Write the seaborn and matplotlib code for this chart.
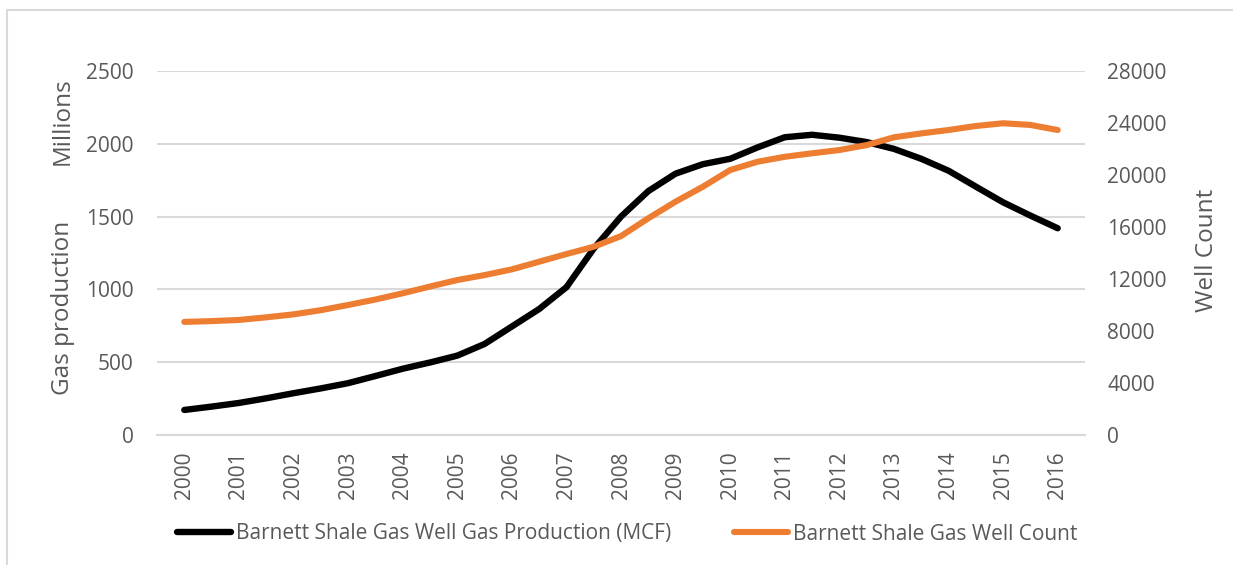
import matplotlib
matplotlib.use("Agg")
import matplotlib.pyplot as plt
import seaborn as sns
import pandas as pd
from matplotlib.lines import Line2D

# Half-year readings, Barnett Shale
period = [2000.0, 2000.5, 2001.0, 2001.5, 2002.0, 2002.5, 2003.0, 2003.5,
          2004.0, 2004.5, 2005.0, 2005.5, 2006.0, 2006.5, 2007.0, 2007.5,
          2008.0, 2008.5, 2009.0, 2009.5, 2010.0, 2010.5, 2011.0, 2011.5,
          2012.0, 2012.5, 2013.0, 2013.5, 2014.0, 2014.5, 2015.0, 2015.5,
          2016.0]
gas_production_millions = [172, 195, 220, 252, 287, 320, 356, 405,
                           455, 498, 545, 625, 745, 865, 1015, 1280,
                           1500, 1675, 1795, 1860, 1897, 1975, 2045, 2062,
                           2042, 2012, 1965, 1897, 1815, 1706, 1598, 1507,
                           1420]
well_count = [8700, 8760, 8850, 9050, 9280, 9600, 10000, 10420,
              10900, 11420, 11920, 12300, 12740, 13330, 13920, 14480,
              15300, 16670, 17950, 19100, 20380, 21020, 21400, 21670,
              21920, 22300, 22900, 23200, 23460, 23770, 23980, 23850,
              23460]
year_labels = [str(y) for y in range(2000, 2017)]

gas_label = "Barnett Shale Gas Well Gas Production (MCF)"
well_label = "Barnett Shale Gas Well Count"

df = pd.DataFrame({
    "pos": [p - 2000 for p in period],
    "gas": gas_production_millions,
    "wells": well_count,
})

sns.set_theme(style="white")
plt.rcParams["font.family"] = ["Open Sans", "DejaVu Sans"]

TEXT = "#595959"
GRID = "#d9d9d9"
BLACK = "#000000"
ORANGE = "#ED7D31"
FS = 15
TITLE_FS = 17.5

W, H = 1233, 565
fig = plt.figure(figsize=(W / 100, H / 100), dpi=100)
ax = fig.add_axes([157 / W, 1 - 435 / H, (1085 - 157) / W, (435 - 71) / H])
ax2 = ax.twinx()

sns.lineplot(data=df, x="pos", y="gas", ax=ax, color=BLACK, linewidth=4.6,
             solid_capstyle="round", solid_joinstyle="round", zorder=3)
sns.lineplot(data=df, x="pos", y="wells", ax=ax2, color=ORANGE, linewidth=4.4,
             solid_capstyle="round", solid_joinstyle="round", zorder=3)

ax.set_xlim(-0.5, 16.5)
ax.set_ylim(0, 2500)
ax2.set_ylim(0, 28000)
ax.set_yticks(range(0, 2501, 500))
ax2.set_yticks(range(0, 28001, 4000))
ax.set_xticks(range(len(year_labels)))
ax.set_xticklabels(year_labels, rotation=90)

ax.grid(axis="y", color=GRID, linewidth=1.5)
ax.grid(axis="x", visible=False)
ax2.grid(False)
ax.set_axisbelow(True)
for a in (ax, ax2):
    for s in a.spines.values():
        s.set_visible(False)
    a.set_xlabel("")
    a.set_ylabel("")
ax.spines["bottom"].set_visible(True)
ax.spines["bottom"].set_color(GRID)
ax.spines["bottom"].set_linewidth(1.5)

ax.tick_params(axis="y", length=0, pad=17, labelsize=FS, labelcolor=TEXT)
ax.tick_params(axis="x", length=0, pad=12, labelsize=FS, labelcolor=TEXT)
ax2.tick_params(axis="y", length=0, pad=16, labelsize=FS, labelcolor=TEXT)

fig.text(63 / W, 1 - 308 / H, "Gas production", rotation=90, ha="center",
         va="center", fontsize=TITLE_FS, color=TEXT)
fig.text(63 / W, 1 - 121 / H, "Millions", rotation=90, ha="center",
         va="center", fontsize=TITLE_FS, color=TEXT)
fig.text(1207 / W, 1 - 250 / H, "Well Count", rotation=90, ha="center",
         va="center", fontsize=TITLE_FS, color=TEXT)

handles = [
    Line2D([], [], color=BLACK, linewidth=4.6, solid_capstyle="round"),
    Line2D([], [], color=ORANGE, linewidth=4.4, solid_capstyle="round"),
]
fig.legend(handles, [gas_label, well_label], loc="center",
           bbox_to_anchor=(627 / W, 1 - 534 / H), ncol=2, frameon=False,
           fontsize=FS, labelcolor=TEXT, handlelength=2.6,
           handletextpad=0.25, columnspacing=3.0)

# Chart frame
frame = plt.Rectangle((7 / W, -0.05), 1.2, 1 - 10 / H + 0.05,
                      transform=fig.transFigure, fill=False,
                      edgecolor=GRID, linewidth=1.5)
fig.add_artist(frame)

fig.savefig("out.png", dpi=100)
